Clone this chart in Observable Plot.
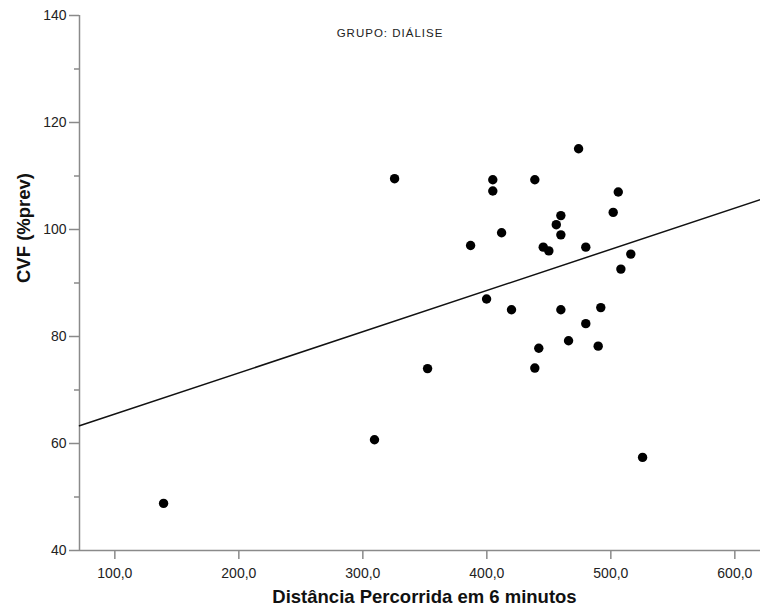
<!DOCTYPE html>
<html>
<head>
<meta charset="utf-8">
<script src="https://cdn.jsdelivr.net/npm/d3@7"></script>
<script src="https://cdn.jsdelivr.net/npm/@observablehq/plot@0.6"></script>
<style>
  html, body { margin: 0; padding: 0; background: #fff; }
  #chart { width: 760px; height: 615px; }
  svg { font-family: "Liberation Sans", Arial, sans-serif; }
</style>
</head>
<body>
<div id="chart"></div>
<script>
// Data
const distancia = [139.3, 309.4, 325.6, 352.2, 404.8, 404.8, 438.7, 474.0, 506.0, 501.9,
                   459.7, 456.0, 459.7, 411.9, 386.9, 445.5, 450.0, 479.8, 516.1, 508.1,
                   399.8, 419.9, 459.7, 491.9, 479.8, 465.9, 441.9, 489.8, 438.7, 525.6];
const cvf = [48.8, 60.7, 109.5, 74.0, 109.3, 107.2, 109.3, 115.1, 107.0, 103.2,
             102.6, 100.9, 99.0, 99.4, 97.0, 96.7, 96.0, 96.7, 95.4, 92.6,
             87.0, 85.0, 85.0, 85.4, 82.4, 79.2, 77.8, 78.2, 74.1, 57.4];
const fitIntercept = [57.8];
const fitSlope = [0.077];
const xTicks = [100, 200, 300, 400, 500, 600];
const yTicks = [40, 60, 80, 100, 120, 140];
const yMinorTicks = [50, 70, 90, 110, 130];
const xDomain = [71.5, 620.7];
const yDomain = [40, 140];
const titleText = ["GRUPO: DIÁLISE"];
const xLabel = ["Distância Percorrida em 6 minutos"];
const yLabel = ["CVF (%prev)"];

const points = distancia.map((d, i) => ({x: d, y: cvf[i]}));
const fitLine = xDomain.map(x => ({x, y: fitIntercept[0] + fitSlope[0] * x}));
const fmtX = d => d3.format(".1f")(d).replace(".", ",");

const axisColor = "#8a8a8a";
const labelColor = "#222";

const chart = Plot.plot({
  width: 760,
  height: 615,
  marginLeft: 79,
  marginRight: 0,
  marginTop: 15,
  marginBottom: 65,
  style: {fontFamily: "Liberation Sans, Arial, sans-serif", background: "#fff"},
  x: {domain: xDomain, axis: null},
  y: {domain: yDomain, axis: null},
  marks: [
    // tick marks
    Plot.axisY(yTicks, {tickSize: 10, text: null, label: null, stroke: axisColor, strokeWidth: 1.5}),
    Plot.axisY(yMinorTicks, {tickSize: 5, text: null, label: null, stroke: axisColor, strokeWidth: 1.5}),
    Plot.axisX(xTicks, {tickSize: 9, text: null, label: null, stroke: axisColor, strokeWidth: 1.5}),
    // tick labels
    Plot.axisY(yTicks, {tickSize: 0, tickPadding: 13, fontSize: 14, fill: labelColor, label: null}),
    Plot.axisX(xTicks, {tickSize: 0, tickPadding: 18, fontSize: 14, fill: labelColor, label: null, tickFormat: fmtX}),
    // axis lines
    Plot.ruleX([xDomain[0]], {stroke: axisColor, strokeWidth: 1.5}),
    Plot.ruleY([yDomain[0]], {stroke: axisColor, strokeWidth: 1.5}),
    // fit line
    Plot.line(fitLine, {x: "x", y: "y", stroke: "#111", strokeWidth: 1.5}),
    // points
    Plot.dot(points, {x: "x", y: "y", r: 4.7, fill: "#000", stroke: "none"}),
    // title
    Plot.text(titleText, {frameAnchor: "top", dx: -30, dy: 13, fontSize: 11.5, fill: "#222", text: d => d}),
    // axis titles
    Plot.text(xLabel, {frameAnchor: "bottom", dx: 4.5, dy: 52, fontSize: 18.5, fontWeight: "bold", fill: "#111", text: d => d}),
    Plot.text(yLabel, {frameAnchor: "left", dx: -55, rotate: -90, fontSize: 18.5, fontWeight: "bold", fill: "#111", text: d => d})
  ]
});

d3.select(chart).selectAll("text")
  .filter(function() { return this.textContent === titleText[0]; })
  .attr("letter-spacing", "1px");

document.getElementById("chart").appendChild(chart);
</script>
</body>
</html>
